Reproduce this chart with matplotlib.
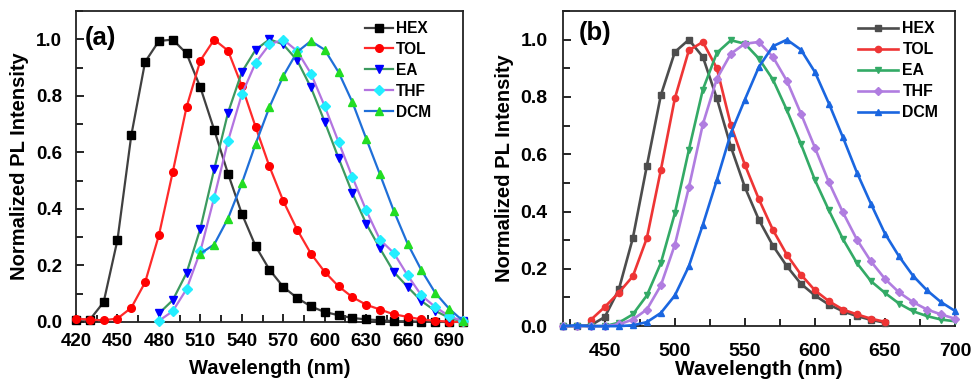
import matplotlib
matplotlib.use("Agg")
import matplotlib.pyplot as plt
from matplotlib.ticker import MultipleLocator

plt.rcParams['font.family'] = ['Liberation Sans', 'DejaVu Sans']
plt.rcParams['font.weight'] = 'bold'

# ---------------- Panel (a) data ----------------
wl_a = list(range(420, 701, 10))
hex_a = [0.008, 0.008, 0.07, 0.29, 0.66, 0.92, 0.994, 0.999, 0.95, 0.83, 0.68, 0.525,
         0.383, 0.268, 0.185, 0.124, 0.085, 0.055, 0.035, 0.024, 0.014, 0.009, 0.006,
         0.003, 0.002, 0.001, 0.0, 0.0, 0.0]
tol_a = [0.012, 0.008, 0.006, 0.012, 0.05, 0.14, 0.307, 0.53, 0.76, 0.925, 0.999, 0.96,
         0.835, 0.69, 0.55, 0.428, 0.327, 0.242, 0.177, 0.126, 0.088, 0.061, 0.044,
         0.027, 0.018, 0.009, 0.004, 0.001, 0.0]
wl_a_ea = list(range(480, 701, 10))
ea_a = [0.03, 0.077, 0.173, 0.33, 0.54, 0.74, 0.884, 0.963, 1.0, 0.982, 0.926, 0.83,
        0.708, 0.58, 0.456, 0.348, 0.26, 0.177, 0.124, 0.074, 0.039, 0.015, 0.002]
thf_a = [0.004, 0.038, 0.116, 0.25, 0.44, 0.64, 0.805, 0.917, 0.982, 0.999, 0.959, 0.879,
         0.763, 0.637, 0.513, 0.395, 0.291, 0.244, 0.165, 0.094, 0.053, 0.021, 0.002]
wl_a_dcm = list(range(510, 701, 10))
dcm_a = [0.242, 0.274, 0.366, 0.49, 0.63, 0.76, 0.87, 0.955, 0.994, 0.963, 0.884, 0.778,
         0.649, 0.522, 0.393, 0.277, 0.183, 0.103, 0.047, 0.004]

# ---------------- Panel (b) data ----------------
wl_b_hex = list(range(420, 651, 10))
hex_b = [0.0, 0.0, 0.003, 0.032, 0.128, 0.307, 0.559, 0.806, 0.957, 1.0, 0.94, 0.795,
         0.626, 0.485, 0.371, 0.281, 0.209, 0.148, 0.107, 0.075, 0.052, 0.035, 0.022, 0.012]
wl_b_tol = list(range(440, 651, 10))
tol_b = [0.022, 0.067, 0.117, 0.174, 0.307, 0.545, 0.795, 0.963, 0.992, 0.9, 0.702,
         0.563, 0.443, 0.336, 0.249, 0.18, 0.125, 0.087, 0.058, 0.041, 0.026, 0.015]
wl_b = list(range(420, 701, 10))
ea_b = [0.0, 0.0, 0.0, 0.0, 0.012, 0.041, 0.107, 0.22, 0.394, 0.615, 0.826, 0.954, 0.998,
        0.986, 0.934, 0.861, 0.754, 0.636, 0.51, 0.404, 0.304, 0.22, 0.157, 0.116, 0.079,
        0.052, 0.035, 0.023, 0.017]
thf_b = [0.0, 0.0, 0.0, 0.0, 0.006, 0.023, 0.058, 0.142, 0.284, 0.484, 0.705, 0.864,
         0.951, 0.986, 0.992, 0.94, 0.856, 0.742, 0.623, 0.502, 0.397, 0.302, 0.226,
         0.165, 0.118, 0.084, 0.058, 0.041, 0.026]
dcm_b = [0.0, 0.003, 0.0, 0.0, 0.0, 0.003, 0.014, 0.046, 0.107, 0.209, 0.354, 0.51,
         0.673, 0.791, 0.905, 0.977, 1.0, 0.965, 0.887, 0.777, 0.659, 0.536, 0.427,
         0.323, 0.244, 0.176, 0.125, 0.084, 0.053]

labels = ['HEX', 'TOL', 'EA', 'THF', 'DCM']
xt_a = list(range(420, 691, 30))
xt_b = list(range(450, 701, 50))
yt = [0.0, 0.2, 0.4, 0.6, 0.8, 1.0]

fig = plt.figure(figsize=(9.72, 3.81), dpi=100)
ax1 = fig.add_axes([0.0782, 0.155, 0.398, 0.816])
ax2 = fig.add_axes([0.579, 0.144, 0.4035, 0.827])

series_a = [
    (wl_a, hex_a, '#404040', 'black', 's'),
    (wl_a, tol_a, '#ff2a2a', '#ff0000', 'o'),
    (wl_a_ea, ea_a, '#3c9a5f', '#0000ff', 'v'),
    (wl_a_ea, thf_a, '#b374e0', '#22eeff', 'D'),
    (wl_a_dcm, dcm_a, '#1f6fd8', '#22dd22', '^'),
]
for (x, y, lc, mc, m), lab in zip(series_a, labels):
    ms = 5.0 if m == 'D' else 5.5
    ax1.plot(x, y, color=lc, lw=1.6, marker=m, ms=ms, mfc=mc, mec=mc, label=lab,
             clip_on=False, zorder=3)

series_b = [
    (wl_b_hex, hex_b, '#4d4d4d', 's'),
    (wl_b_tol, tol_b, '#ee3535', 'o'),
    (wl_b, ea_b, '#33aa66', 'v'),
    (wl_b, thf_b, '#b07de0', 'D'),
    (wl_b, dcm_b, '#1a66e0', '^'),
]
for (x, y, c, m), lab in zip(series_b, labels):
    ms = 4.0 if m == 'D' else 4.5
    ax2.plot(x, y, color=c, lw=1.9, marker=m, ms=ms, mfc=c, mec=c, label=lab,
             clip_on=False, zorder=3)

cfg = {ax1: dict(tick=13.5, xpad=8, ypad=10, xl=14.5, yl=14.5, xlc=-0.15, ylc=-0.147),
       ax2: dict(tick=14, xpad=12, ypad=11, xl=15, yl=14.5, xlc=-0.138, ylc=-0.148)}

for ax in (ax1, ax2):
    c = cfg[ax]
    ax.set_xlim(420, 700)
    ax.set_ylim(0, 1.1)
    ax.yaxis.set_minor_locator(MultipleLocator(0.1))
    ax.tick_params(which='both', direction='in', top=False, right=False, width=1.2)
    ax.tick_params(which='major', length=6)
    ax.tick_params(which='minor', length=5)
    ax.tick_params(axis='x', which='major', pad=c['xpad'], labelsize=c['tick'])
    ax.tick_params(axis='y', which='major', pad=c['ypad'], labelsize=c['tick'])
    for s in ax.spines.values():
        s.set_linewidth(1.3)
        s.set_color('#222222')
    ax.set_yticks(yt)
    ax.set_yticklabels(['%.1f' % v for v in yt], fontweight='bold')
    ax.set_xlabel('Wavelength (nm)', fontsize=c['xl'], fontweight='bold')
    ax.set_ylabel('Normalized PL Intensity', fontsize=c['yl'], fontweight='bold')
    ax.xaxis.set_label_coords(0.5, c['xlc'])
    ax.yaxis.set_label_coords(c['ylc'], 0.5)
    ax.xaxis.label.set_va('center')
    ax.yaxis.label.set_va('center')

ax1.set_xticks(xt_a)
ax1.set_xticklabels([str(v) for v in xt_a], fontweight='bold')
ax1.xaxis.set_minor_locator(MultipleLocator(15))
ax2.set_xticks(xt_b)
ax2.set_xticklabels([str(v) for v in xt_b], fontweight='bold')
ax2.xaxis.set_minor_locator(MultipleLocator(25))

ax1.text(0.023, 0.913, '(a)', transform=ax1.transAxes, fontsize=18.5, fontweight='bold',
         ha='left', va='center')
ax2.text(0.041, 0.93, '(b)', transform=ax2.transAxes, fontsize=18.5, fontweight='bold',
         ha='left', va='center')

ax1.legend(loc='upper left', bbox_to_anchor=(0.747, 0.968), frameon=False,
           handlelength=1.8, handletextpad=0.2, labelspacing=0.38,
           borderpad=0, borderaxespad=0, numpoints=1,
           prop={'weight': 'bold', 'size': 11.2})
ax2.legend(loc='upper left', bbox_to_anchor=(0.753, 0.968), frameon=False,
           handlelength=2.55, handletextpad=0.25, labelspacing=0.38,
           borderpad=0, borderaxespad=0, numpoints=1,
           prop={'weight': 'bold', 'size': 11.4})

fig.savefig('out.png', dpi=100)
